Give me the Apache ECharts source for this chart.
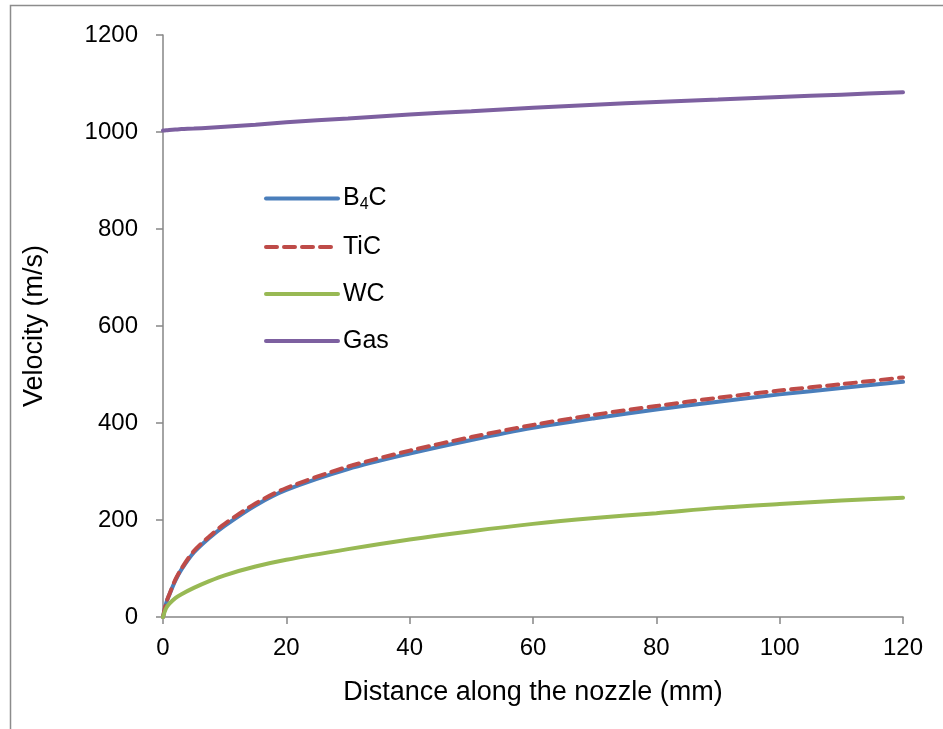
<!DOCTYPE html>
<html>
<head>
<meta charset="UTF-8">
<title>Velocity along the nozzle</title>
<script src="https://cdn.jsdelivr.net/npm/echarts@6/dist/echarts.min.js"></script>
<style>
  html, body { margin: 0; padding: 0; background: #fff; }
  #container { width: 943px; height: 729px; }
</style>
</head>
<body>
<div id="container"></div>
<script>
// distance along the nozzle (mm)
var distance = [0, 0.5, 1, 2, 3, 5, 7.5, 10, 15, 20, 30, 40, 50, 60, 70, 80, 90, 100, 110, 120];
// velocities (m/s)
var b4c = [0, 28, 45, 75, 98, 133, 163, 188, 230, 262, 305, 337, 365, 390, 410, 428, 444, 459, 472, 485];
var tic = [0, 29, 46, 77, 100, 136, 166, 192, 234, 266, 310, 343, 371, 396, 417, 435, 452, 467, 480, 494];
var wc  = [0, 18, 27, 39, 47, 60, 74, 86, 104, 118, 140, 160, 177, 192, 204, 214, 225, 233, 240, 246];
var gas = [1003, 1003.5, 1004, 1005, 1006, 1007, 1009, 1011, 1015, 1020, 1028, 1036, 1043, 1050, 1056, 1062, 1067, 1072, 1077, 1082];

var xTicks = { min: 0, max: 120, step: 20 };
var yTicks = { min: 0, max: 1200, step: 200 };

function pairs(vals) {
  return distance.map(function (d, i) { return [d, vals[i]]; });
}

var font = 'Liberation Sans, Arial, sans-serif';
var axisGray = '#868686';

var dom = document.getElementById('container');
var myChart = echarts.init(dom);

var option = {
  backgroundColor: '#fff',
  animation: false,
  textStyle: { fontFamily: font, color: '#000' },
  graphic: [{
    type: 'rect',
    shape: { x: 10.5, y: 5.5, width: 1000, height: 1000 },
    style: { fill: 'none', stroke: '#8c8c8c', lineWidth: 1.5 },
    silent: true
  }],
  grid: { left: 163, right: 40, top: 35, bottom: 112 },
  legend: {
    orient: 'vertical',
    left: 259,
    top: 181,
    itemWidth: 72,
    itemHeight: 14,
    itemGap: 22,
    lineStyle: { width: 4 },
    itemStyle: { color: 'rgba(0,0,0,0)', borderWidth: 0 },
    textStyle: {
      fontFamily: font, fontSize: 25, color: '#000',
      rich: {
        a: { fontFamily: font, fontSize: 25, color: '#000' },
        s: { fontFamily: font, fontSize: 16, color: '#000', padding: [12, 0, 0, 0] }
      }
    },
    formatter: function (name) {
      if (name === 'B4C') return '{a|B}{s|4}{a|C}';
      return '{a|' + name + '}';
    },
    data: ['B4C', 'TiC', 'WC', 'Gas']
  },
  xAxis: {
    type: 'value',
    min: xTicks.min, max: xTicks.max, interval: xTicks.step,
    name: 'Distance along the nozzle (mm)',
    nameLocation: 'middle',
    nameGap: 62,
    nameTextStyle: { fontFamily: font, fontSize: 27, color: '#000' },
    axisLine: { lineStyle: { color: axisGray, width: 1.5 } },
    axisTick: { show: true, length: 7, inside: false, lineStyle: { color: axisGray, width: 1.5 } },
    axisLabel: { fontFamily: font, fontSize: 24, color: '#000', margin: 19 },
    splitLine: { show: false }
  },
  yAxis: {
    type: 'value',
    min: yTicks.min, max: yTicks.max, interval: yTicks.step,
    name: 'Velocity (m/s)',
    nameLocation: 'middle',
    nameGap: 115,
    nameTextStyle: { fontFamily: font, fontSize: 27, color: '#000' },
    axisLine: { show: true, lineStyle: { color: axisGray, width: 1.5 } },
    axisTick: { show: true, length: 7, inside: false, lineStyle: { color: axisGray, width: 1.5 } },
    axisLabel: {
      fontFamily: font, fontSize: 24, color: '#000', margin: 25,
      formatter: function (v) { return String(v); }
    },
    splitLine: { show: false }
  },
  series: [
    {
      name: 'B4C', type: 'line', data: pairs(b4c), smooth: 0.3, symbol: 'none',
      lineStyle: { color: '#4A7EBB', width: 4, cap: 'round' },
      itemStyle: { color: '#4A7EBB' }
    },
    {
      name: 'TiC', type: 'line', data: pairs(tic), smooth: 0.3, symbol: 'none',
      lineStyle: { color: '#BE4B48', width: 4, type: [11, 7], cap: 'round' },
      itemStyle: { color: '#BE4B48' }
    },
    {
      name: 'WC', type: 'line', data: pairs(wc), smooth: 0.3, symbol: 'none',
      lineStyle: { color: '#98B954', width: 4, cap: 'round' },
      itemStyle: { color: '#98B954' }
    },
    {
      name: 'Gas', type: 'line', data: pairs(gas), smooth: 0.3, symbol: 'none',
      lineStyle: { color: '#7D60A0', width: 4, cap: 'round' },
      itemStyle: { color: '#7D60A0' }
    }
  ]
};

myChart.setOption(option);
</script>
</body>
</html>
